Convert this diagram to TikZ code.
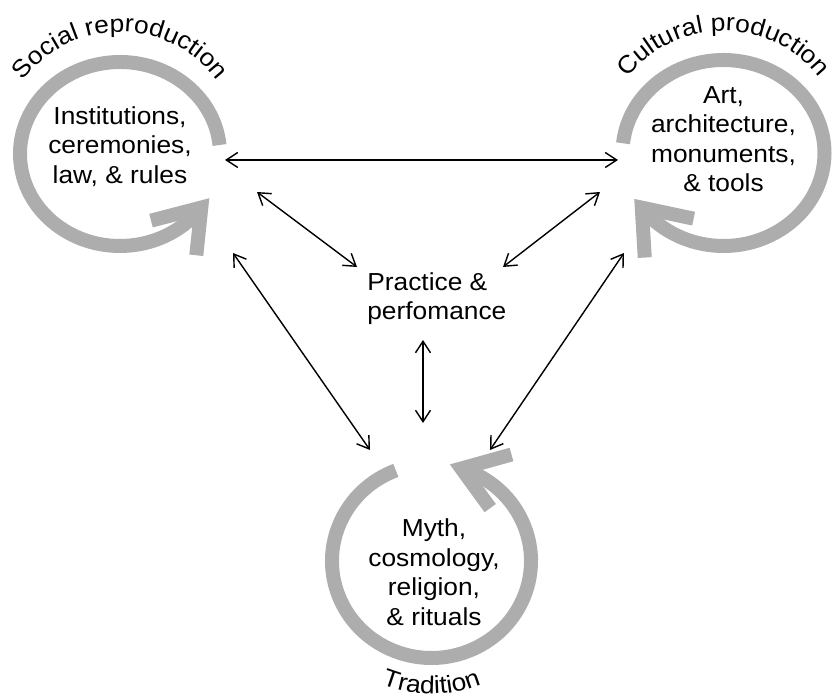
\documentclass[tikz,border=0pt]{standalone}
\usepackage{fontspec}
\setmainfont[FakeStretch=1.07]{Liberation Sans}
\usetikzlibrary{arrows.meta,decorations.text}
\definecolor{ringgray}{gray}{0.68}
\newcommand{\diafont}{\fontsize{14}{16.8}\selectfont}

\begin{document}
\begin{tikzpicture}[x=0.02cm, y=0.02cm,
  ring/.style={draw=ringgray, line width=0.28cm, line join=miter},
  link/.style={{Straight Barb[length=2.3mm,width=3mm]}-{Straight Barb[length=2.3mm,width=3mm]}, line width=0.8pt},
  txt/.style={font=\diafont, align=center, inner sep=0pt},
  arclabel/.style={decorate, decoration={text along path, text align=center, text={|\diafont|#1}}}]

\useasboundingbox (0,0) rectangle (833,699); % Page

\coordinate (soc) at (120,545); % Centre - Social reproduction
\coordinate (cul) at (723.5,546); % Centre - Cultural production
\coordinate (tra) at (431.5,138); % Centre - Tradition

\draw[ring] (soc) ++(5.6:100 and 92) arc[start angle=5.6, end angle=324.4, x radius=100, y radius=92] coordinate (soc-tip); % Ring - Top left
\draw[ring] (soc-tip) ++(194.6:52) -- (soc-tip) -- +(264:48);
\draw[ring] (cul) ++(174:101 and 93) arc[start angle=174, end angle=-144, x radius=101, y radius=93] coordinate (cul-tip); % Ring - Top right
\draw[ring] (cul-tip) ++(-12:53) -- (cul-tip) -- +(-86.6:50);
\draw[ring] (tra) ++(111:99.5 and 97) arc[start angle=111, end angle=432.5, x radius=99.5, y radius=97] coordinate (tra-tip); % Ring - Bottom
\draw[ring] (tra-tip) ++(15.6:52) -- (tra-tip) -- +(-54:49);

\path[arclabel={Social reproduction}] (soc) ++(160:122) arc[start angle=160, end angle=20, radius=122];
\path[arclabel={Cultural production}] (cul) ++(160:122) arc[start angle=160, end angle=20, radius=122];
\path[arclabel={Tradition}] (tra) ++(220:133) arc[start angle=220, end angle=320, radius=133];

\node[txt] (soc-t) at (120,552.5) {Institutions,\\ceremonies,\\law, \& rules};
\node[txt] (cul-t) at (723.5,560) {Art,\\architecture,\\monuments,\\\& tools};
\node[txt] (tra-t) at (434,127) {Myth,\\cosmology,\\religion,\\\& rituals};
\node[txt, align=left, anchor=west] (pra) at (367,400.5) {Practice \&\\perfomance};

\coordinate (soc-e) at (225,539); % Arrow ends - Top left
\coordinate (soc-se) at (257,507);
\coordinate (soc-s) at (233,446);
\coordinate (cul-w) at (618,539); % Arrow ends - Top right
\coordinate (cul-sw) at (600,507);
\coordinate (cul-s) at (624,446);
\coordinate (pra-nw) at (357,432); % Arrow ends - Middle
\coordinate (pra-ne) at (503,432);
\coordinate (pra-s) at (423,359);
\coordinate (tra-n) at (423,276); % Arrow ends - Bottom
\coordinate (tra-nw) at (370,249);
\coordinate (tra-ne) at (490,249);

\draw[link] (soc-e) -- (cul-w);
\draw[link] (soc-se) -- (pra-nw);
\draw[link] (cul-sw) -- (pra-ne);
\draw[link] (pra-s) -- (tra-n);
\draw[link] (soc-s) -- (tra-nw);
\draw[link] (cul-s) -- (tra-ne);

\end{tikzpicture}
\end{document}
